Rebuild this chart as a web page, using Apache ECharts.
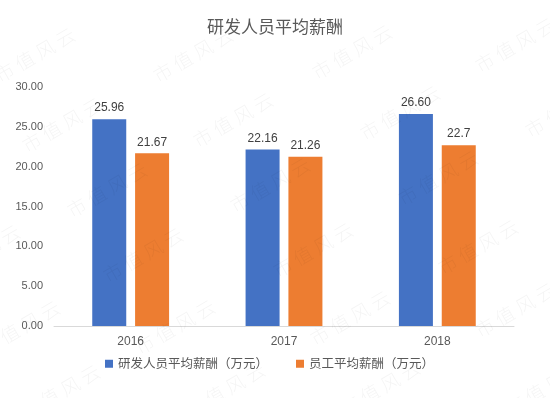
<!DOCTYPE html>
<html>
<head>
<meta charset="utf-8">
<script src="https://cdn.jsdelivr.net/npm/echarts@6/dist/echarts.min.js"></script>
<style>html,body{margin:0;padding:0;background:#fff;}#c{width:550px;height:398px;}</style>
</head>
<body>
<div id="c"></div>
<script>
var titleText = '研发人员平均薪酬';
var categories = ['2016', '2017', '2018'];
var seriesNames = ['研发人员平均薪酬（万元）', '员工平均薪酬（万元）'];
var rdSalary = [25.96, 22.16, 26.60];
var staffSalary = [21.67, 21.26, 22.7];
var yTicks = [0, 5, 10, 15, 20, 25, 30];
var watermarkText = '市 值 风 云';

var wmPos = [
  [35,55],[193,55],[352,52],[515,45],
  [62,125],[233,120],[400,113],[565,110],
  [-55,190],[107,190],[270,185],[438,178],
  [-20,252],[143,255],[313,250],[478,247],
  [20,328],[175,327],[350,318],[515,310],
  [60,392],[225,390],[380,388],[545,388]
];
var graphics = wmPos.map(function(p){
  return {
    type: 'text', x: p[0], y: p[1], rotation: Math.PI/6, z: 100, silent: true,
    style: { text: watermarkText, fill: 'rgba(0,0,0,0.045)', font: '300 19px "Noto Sans CJK SC"', align: 'center', verticalAlign: 'middle' }
  };
});

var chart = echarts.init(document.getElementById('c'));
chart.setOption({
  animation: false,
  backgroundColor: '#ffffff',
  textStyle: { fontFamily: '"Liberation Sans", "Noto Sans CJK SC", sans-serif' },
  title: {
    text: titleText, left: 'center', top: 13,
    textStyle: { fontSize: 17, fontWeight: 'normal', color: '#595959', fontFamily: '"Noto Sans CJK SC", sans-serif' }
  },
  legend: {
    data: seriesNames, bottom: 23, left: 100, icon: 'rect', itemWidth: 8, itemHeight: 8, itemGap: 28,
    textStyle: { fontSize: 12.5, color: '#595959', fontFamily: '"Noto Sans CJK SC", sans-serif' }
  },
  grid: { left: 54, right: 36, top: 87, bottom: 72 },
  xAxis: {
    type: 'category', data: categories,
    axisLine: { lineStyle: { color: '#d9d9d9', width: 1 } },
    axisTick: { show: false },
    axisLabel: { color: '#595959', fontSize: 12, margin: 10 }
  },
  yAxis: {
    type: 'value', min: yTicks[0], max: yTicks[yTicks.length-1], interval: yTicks[1]-yTicks[0],
    axisLine: { show: false }, axisTick: { show: false }, splitLine: { show: false },
    axisLabel: { color: '#595959', fontSize: 11, margin: 11, formatter: function(v){ return v.toFixed(2); } }
  },
  series: [
    {
      name: seriesNames[0], type: 'bar', data: rdSalary, barWidth: 34, barGap: '26%',
      itemStyle: { color: '#4472C4' },
      label: { show: true, position: 'top', distance: 5, color: '#404040', fontSize: 12, formatter: function(p){ return p.value.toFixed(2); } }
    },
    {
      name: seriesNames[1], type: 'bar', data: staffSalary, barWidth: 34,
      itemStyle: { color: '#ED7D31' },
      label: { show: true, position: 'top', distance: 5, color: '#404040', fontSize: 12, formatter: function(p){ return String(p.value); } }
    }
  ],
  graphic: graphics
});
</script>
</body>
</html>
